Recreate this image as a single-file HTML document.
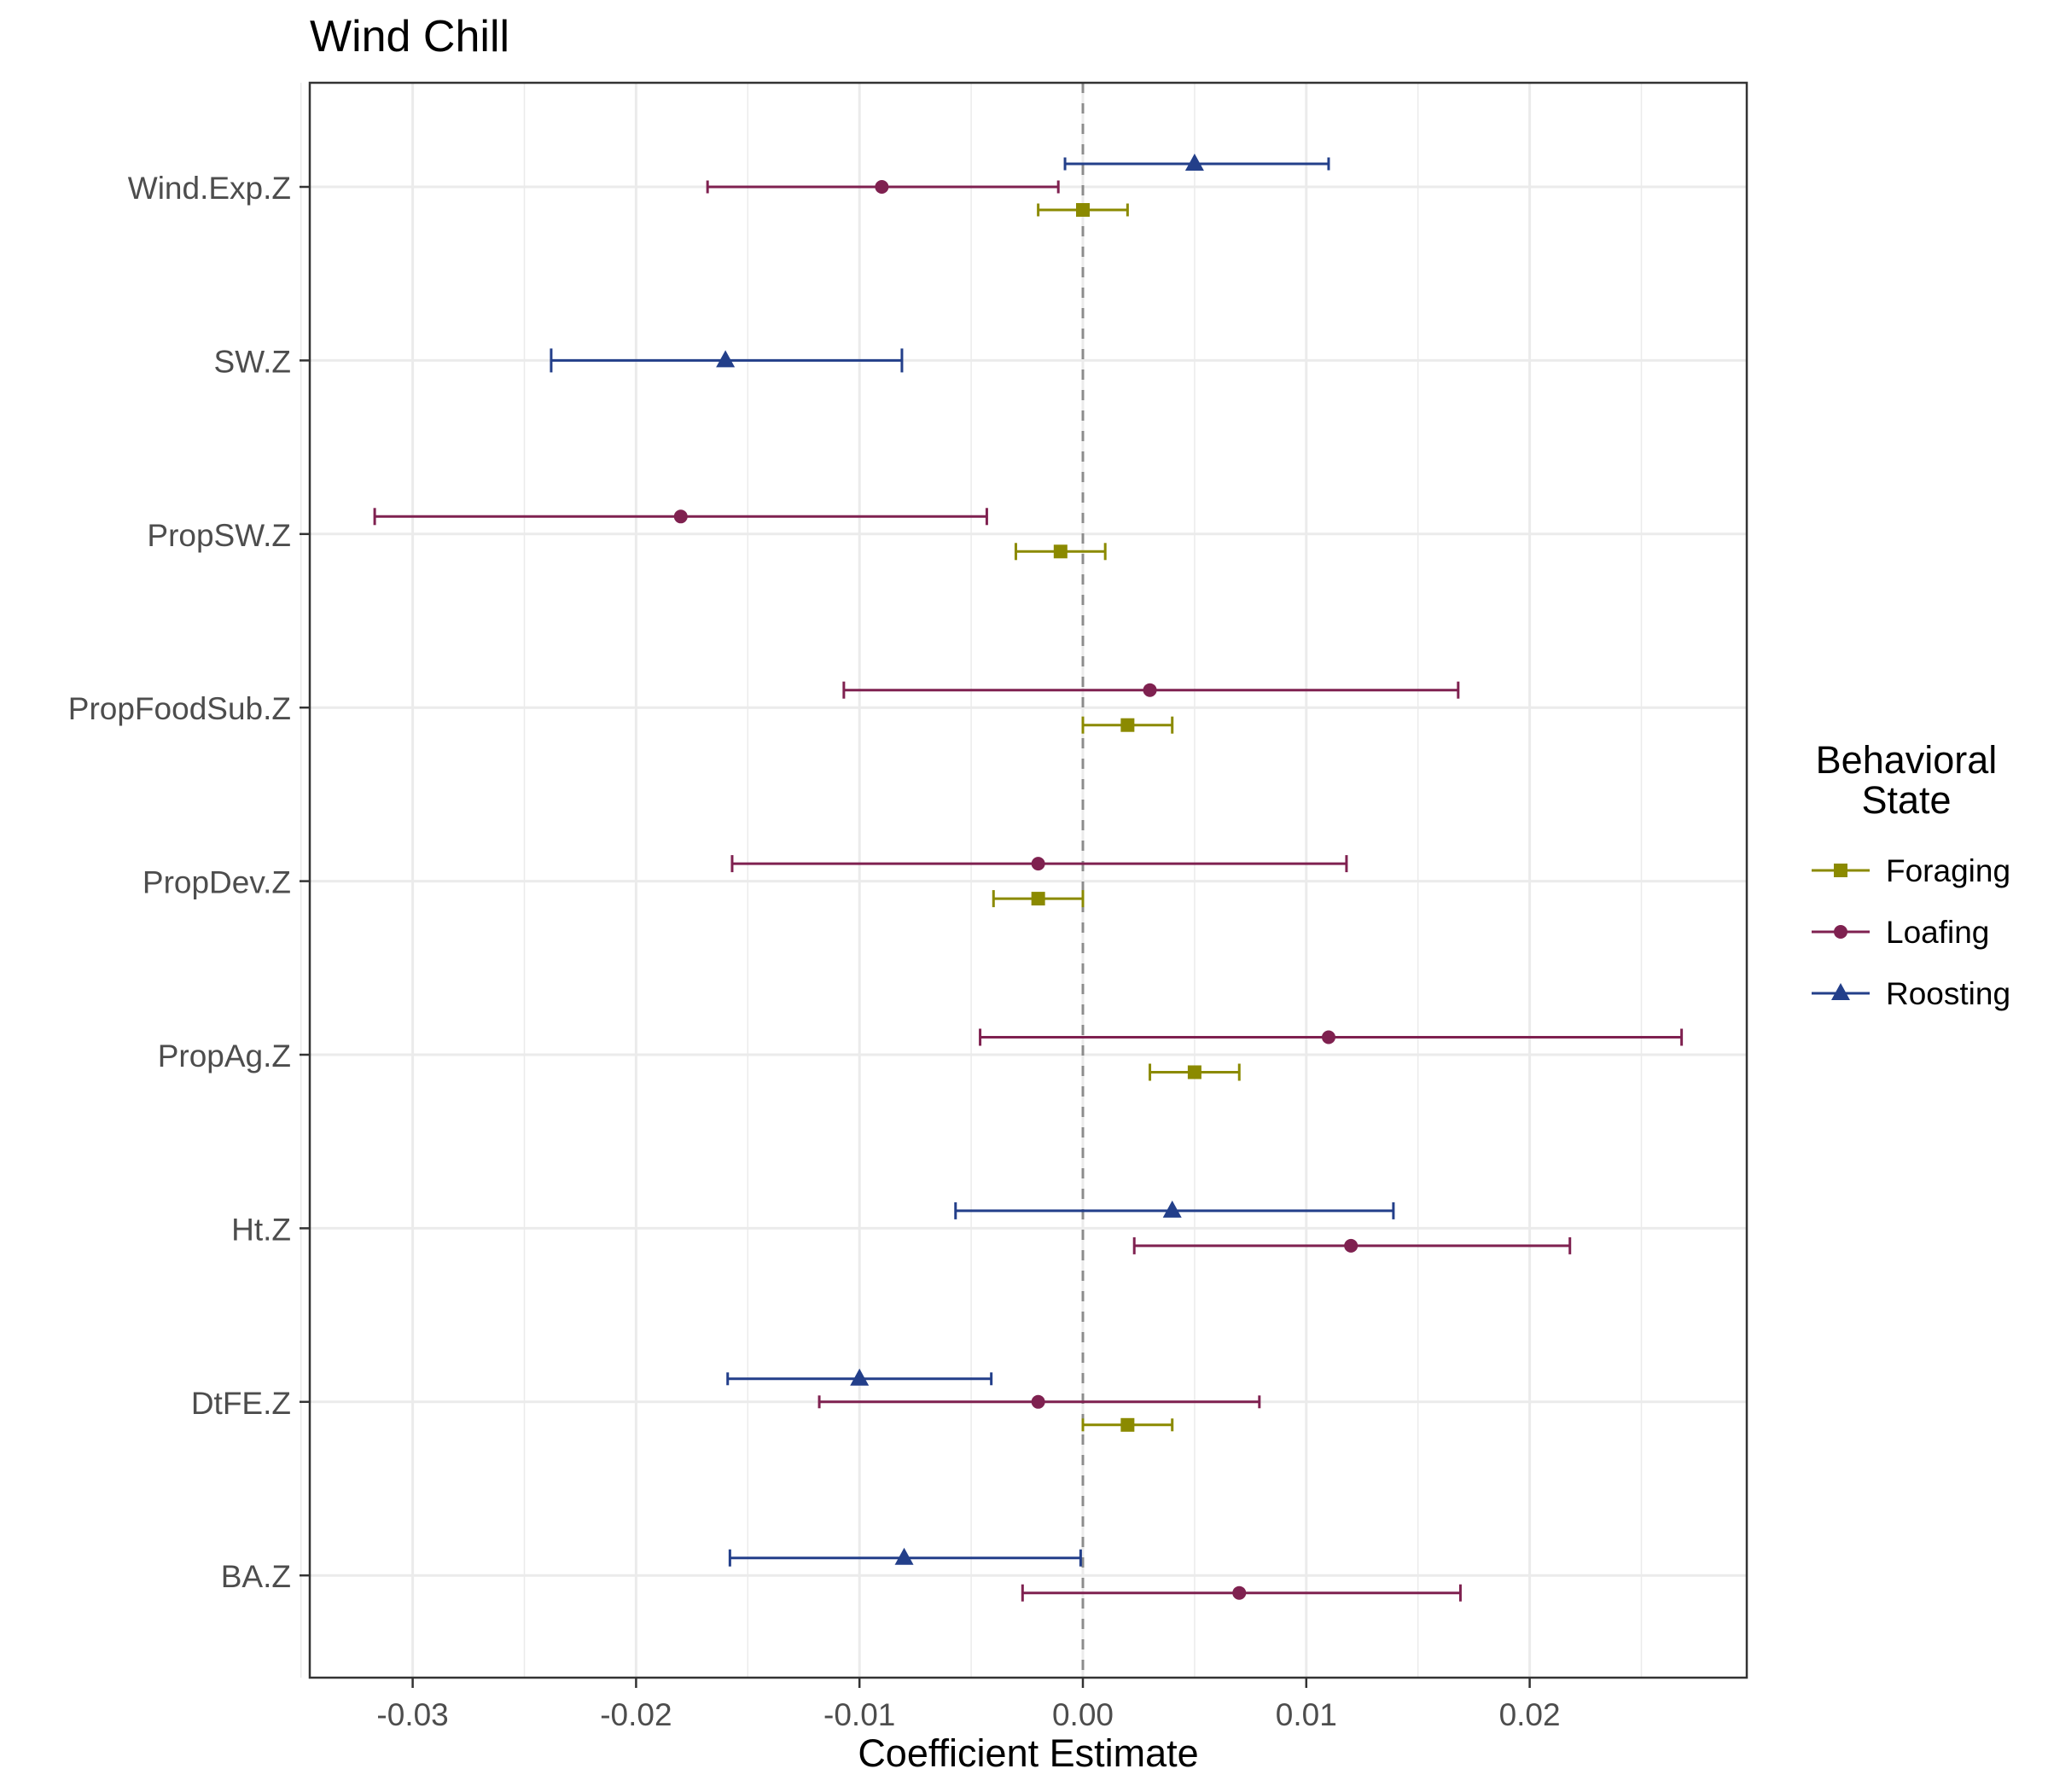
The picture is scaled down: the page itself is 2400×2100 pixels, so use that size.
<!DOCTYPE html>
<html><head><meta charset="utf-8"><style>
html,body{margin:0;padding:0;background:#fff;}
svg{display:block;font-family:"Liberation Sans",Arial,sans-serif;}
</style></head><body>
<svg id="chart" width="2400" height="2100" viewBox="0 0 2400 2100" xmlns="http://www.w3.org/2000/svg">
<rect x="0" y="0" width="2400" height="2100" fill="#fff"/>
<text x="363" y="60" font-size="52" fill="#000">Wind Chill</text>
<g id="grid"></g>
<g id="marks"></g>
<rect x="363" y="97" width="1684" height="1869" fill="none" stroke="#333" stroke-width="2.5"/>
<g id="axes"></g>
<text x="1205" y="2070" font-size="45" text-anchor="middle" fill="#000">Coefficient Estimate</text>
<g id="legend">
<text x="2234" y="906" font-size="45" text-anchor="middle">Behavioral</text>
<text x="2234" y="953" font-size="45" text-anchor="middle">State</text>
</g>
</svg>
<script>
const categories = ["Wind.Exp.Z","SW.Z","PropSW.Z","PropFoodSub.Z","PropDev.Z","PropAg.Z","Ht.Z","DtFE.Z","BA.Z"];
const states = ["Foraging","Loafing","Roosting"];
const colors = ["#8b8a00","#7f2150","#233f8a"];
const foragingEst = [0, null, -0.001, 0.002, -0.002, 0.005, null, 0.002, null];
const foragingLo  = [-0.002, null, -0.003, 0.0, -0.004, 0.003, null, 0.0, null];
const foragingHi  = [0.002, null, 0.001, 0.004, 0.0, 0.007, null, 0.004, null];
const loafingEst = [-0.009, null, -0.018, 0.003, -0.002, 0.011, 0.012, -0.002, 0.007];
const loafingLo  = [-0.0168, null, -0.0317, -0.0107, -0.0157, -0.0046, 0.0023, -0.0118, -0.0027];
const loafingHi  = [-0.0011, null, -0.0043, 0.0168, 0.0118, 0.0268, 0.0218, 0.0079, 0.0169];
const roostingEst = [0.005, -0.016, null, null, null, null, 0.004, -0.010, -0.008];
const roostingLo  = [-0.0008, -0.0238, null, null, null, null, -0.0057, -0.0159, -0.0158];
const roostingHi  = [0.011, -0.0081, null, null, null, null, 0.0139, -0.0041, -0.0001];
const xTicks = [-0.03,-0.02,-0.01,0.00,0.01,0.02];
const xTickLabels = ["-0.03","-0.02","-0.01","0.00","0.01","0.02"];

const NS="http://www.w3.org/2000/svg";
const X0=1269, XS=26180, PL=363, PR=2047, PT=97, PB=1966, Y0=219, YS=203.4;
const xs=v=>X0+v*XS, ys=i=>Y0+i*YS;
function mk(tag,attrs,parent){const e=document.createElementNS(NS,tag);for(const k in attrs)e.setAttribute(k,attrs[k]);parent.appendChild(e);return e;}
const grid=document.getElementById('grid'), marks=document.getElementById('marks'), axes=document.getElementById('axes'), legend=document.getElementById('legend');
mk('rect',{x:PL,y:PT,width:PR-PL,height:PB-PT,fill:'#fff'},grid);
for(let i=0;i<xTicks.length;i++){const m=xs(xTicks[i]+0.005);if(m<PR){const l=mk('line',{x1:m,x2:m,y1:PT,y2:PB,stroke:'#ebebeb','stroke-width':1.5},grid);

}}
{const m=xs(-0.035);const l=mk('line',{x1:m,x2:m,y1:PT,y2:PB,stroke:'#ebebeb','stroke-width':1.5},grid);

}
xTicks.forEach((t,i)=>{const x=xs(t);
const g=mk('line',{x1:x,x2:x,y1:PT,y2:PB,stroke:'#ebebeb','stroke-width':3},grid);


const tk=mk('line',{x1:x,x2:x,y1:PB,y2:PB+12,stroke:'#333','stroke-width':2.5},axes);


const tl=mk('text',{x:x,y:PB+56,'font-size':37,'text-anchor':'middle',fill:'#4d4d4d'},axes);tl.textContent=xTickLabels[i];

});
categories.forEach((c,i)=>{const y=ys(i);
const g=mk('line',{x1:PL,x2:PR,y1:y,y2:y,stroke:'#ebebeb','stroke-width':3},grid);


const tk=mk('line',{x1:PL-12,x2:PL,y1:y,y2:y,stroke:'#333','stroke-width':2.5},axes);


const tl=mk('text',{x:PL-22,y:y+14,'font-size':37,'text-anchor':'end',fill:'#4d4d4d'},axes);tl.textContent=c;

});
const zl=mk('line',{x1:xs(0),x2:xs(0),y1:PT,y2:PB,stroke:'#8c8c8c','stroke-width':3,'stroke-dasharray':'12,12'},grid);



const est=[foragingEst,loafingEst,roostingEst], lo=[foragingLo,loafingLo,roostingLo], hi=[foragingHi,loafingHi,roostingHi];
function marker(s,x,y,parent){const col=colors[s];let e;
if(s===0)e=mk('rect',{x:x-8,y:y-8,width:16,height:16,fill:col},parent);
else if(s===1)e=mk('circle',{cx:x,cy:y,r:8,fill:col},parent);
else e=mk('polygon',{points:`${x},${y-12} ${x-11},${y+8} ${x+11},${y+8}`,fill:col},parent);
return e;}
const halfCap={1:14,2:10,3:7.5}, dodge={1:0,2:20.5,3:27};
categories.forEach((c,i)=>{const present=[2,1,0].filter(s=>est[s][i]!==null);const n=present.length;
present.forEach((s,k)=>{const y=ys(i)+(k-(n-1)/2)*(n===3?dodge[3]:(n===2?dodge[2]*2:0));
const g=mk('g',{},marks);


const a=xs(lo[s][i]), b=xs(hi[s][i]), h=halfCap[n], col=colors[s];
mk('line',{x1:a,x2:b,y1:y,y2:y,stroke:col,'stroke-width':3},g);
mk('line',{x1:a,x2:a,y1:y-h,y2:y+h,stroke:col,'stroke-width':3},g);
mk('line',{x1:b,x2:b,y1:y-h,y2:y+h,stroke:col,'stroke-width':3},g);
marker(s,xs(est[s][i]),y,g);});});
const ly=[1020,1092,1164];
states.forEach((s,i)=>{const g=mk('g',{},legend);


mk('line',{x1:2123,x2:2191,y1:ly[i],y2:ly[i],stroke:colors[i],'stroke-width':3},g);
marker(i,2157,ly[i],g);
const t=mk('text',{x:2210,y:ly[i]+13,'font-size':37,fill:'#000'},g);t.textContent=s;});
</script>
</body></html>
